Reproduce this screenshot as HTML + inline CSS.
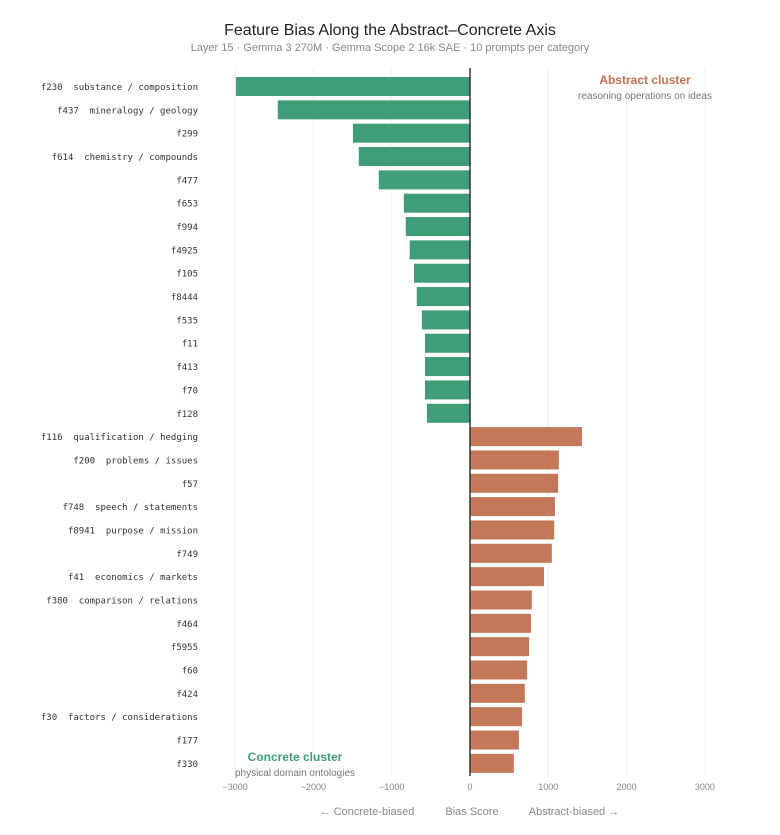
<!DOCTYPE html>
<html><head><meta charset="utf-8"><style>
body{margin:0;background:#fff;font-family:"Liberation Sans",sans-serif;}
svg text{font-family:"Liberation Sans",sans-serif;}
</style></head><body>
<svg id="chart" width="780" height="830" xmlns="http://www.w3.org/2000/svg">
<text x="390" y="35" text-anchor="middle" font-size="16" fill="#222">Feature Bias Along the Abstract–Concrete Axis</text>
<text x="390" y="51" text-anchor="middle" font-size="11" fill="#888">Layer 15 · Gemma 3 270M · Gemma Scope 2 16k SAE · 10 prompts per category</text>
<g id="grid"></g><g id="bars"></g><g id="labels"></g><g id="ticks"></g>
<text x="645" y="84" text-anchor="middle" font-size="12" font-weight="bold" fill="#c4714f">Abstract cluster</text>
<text x="645" y="99" text-anchor="middle" font-size="10" fill="#777">reasoning operations on ideas</text>
<text x="295" y="761" text-anchor="middle" font-size="12" font-weight="bold" fill="#3f9d78">Concrete cluster</text>
<text x="295" y="776" text-anchor="middle" font-size="10" fill="#777">physical domain ontologies</text>
<text x="367" y="815" text-anchor="middle" font-size="11" fill="#888">← Concrete-biased</text>
<text x="472" y="815" text-anchor="middle" font-size="11" fill="#888">Bias Score</text>
<text x="574" y="815" text-anchor="middle" font-size="11" fill="#888">Abstract-biased →</text>
</svg>
<script>
const categories=["f230  substance / composition","f437  mineralogy / geology","f299","f614  chemistry / compounds","f477","f653","f994","f4925","f105","f8444","f535","f11","f413","f70","f128","f116  qualification / hedging","f200  problems / issues","f57","f748  speech / statements","f8941  purpose / mission","f749","f41  economics / markets","f380  comparison / relations","f464","f5955","f60","f424","f30  factors / considerations","f177","f330"];
const values=[-2990,-2455,-1495,-1420,-1165,-845,-820,-770,-715,-680,-615,-575,-575,-575,-550,1430,1135,1125,1085,1075,1045,945,790,780,755,730,700,665,625,560];
const tickValues=[-3000,-2000,-1000,0,1000,2000,3000];
const tickLabels=["−3000","−2000","−1000","0","1000","2000","3000"];
const NS="http://www.w3.org/2000/svg";
const x0=470,pxPer=0.0783,plotTop=75,step=23.34,bh=19;
const xs=v=>x0+v*pxPer;
const ys=i=>plotTop+i*step;
function mk(t,a,p){const e=document.createElementNS(NS,t);for(const k in a)e.setAttribute(k,a[k]);p.appendChild(e);return e;}
const g=document.getElementById('grid'),b=document.getElementById('bars'),l=document.getElementById('labels'),tk=document.getElementById('ticks');
tickValues.forEach((v,i)=>{
 if(v!==0){const ln=mk('line',{x1:xs(v),x2:xs(v),y1:68,y2:776,stroke:'#f0f0f0','stroke-width':1},g);
 
 }
 const t=mk('text',{x:xs(v),y:790,'text-anchor':'middle','font-size':9,fill:'#888'},tk);t.textContent=tickLabels[i];
 
 
});
values.forEach((v,i)=>{
 const y=ys(i);
 const r=mk('rect',{x:Math.min(xs(v),x0),y:y+2,width:Math.abs(xs(v)-x0),height:bh,fill:v<0?'#3f9d78':'#c4785a'},b);
 
 
 const t=mk('text',{x:198,y:y+15,'text-anchor':'end','font-size':9,fill:'#333'},l);
 t.setAttribute('style','white-space:pre;font-family:"DejaVu Sans Mono","Liberation Mono",monospace');
 t.textContent=categories[i];
 
 
});
const z=mk('line',{x1:x0,x2:x0,y1:68,y2:776,stroke:'#333','stroke-width':1.5},b);


</script>
</body></html>
